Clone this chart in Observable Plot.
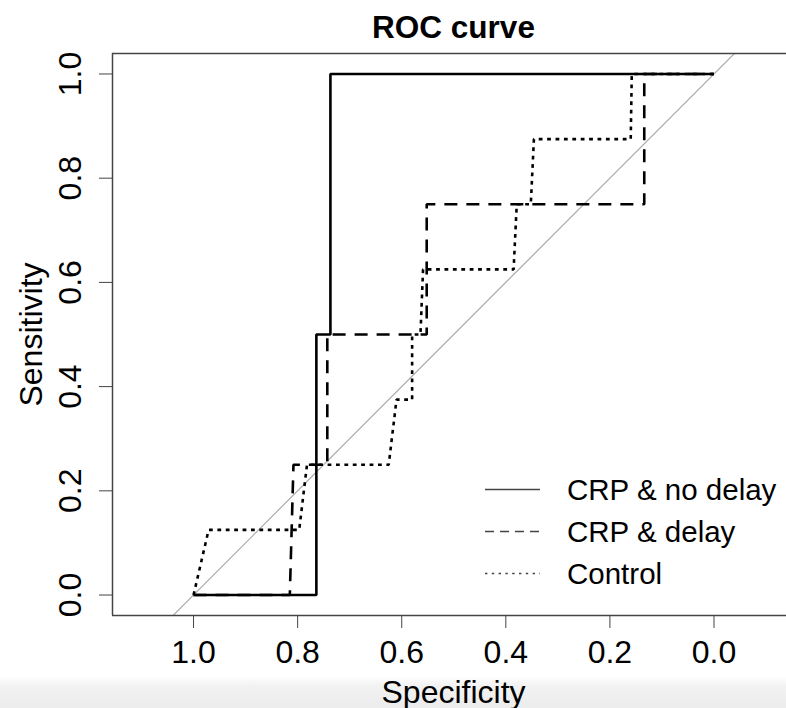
<!DOCTYPE html>
<html>
<head>
<meta charset="utf-8">
<script src="https://cdn.jsdelivr.net/npm/d3@7"></script>
<script src="https://cdn.jsdelivr.net/npm/@observablehq/plot@0.6"></script>
<style>
  html, body { margin: 0; padding: 0; overflow: hidden; }
  body {
    width: 786px; height: 708px; position: relative;
    background: linear-gradient(to bottom, #ffffff 0px, #ffffff 676px, #f2f2f2 686px, #ececec 708px);
    font-family: "Liberation Sans", Arial, Helvetica, sans-serif;
  }
  #chart { position: absolute; left: 0; top: 0; }
  #legend { position: absolute; left: 0; top: 0; pointer-events: none; }
</style>
</head>
<body>
<div id="chart"></div>
<svg id="legend" width="786" height="708"></svg>
<script>
// ---- chart text ----
const title = "ROC curve";
const xLabel = "Specificity";
const yLabel = "Sensitivity";

// ---- tick values ----
const xTicks = [1.0, 0.8, 0.6, 0.4, 0.2, 0.0];
const yTicks = [0.0, 0.2, 0.4, 0.6, 0.8, 1.0];

// ---- series ----
const seriesNames = ["CRP & no delay", "CRP & delay", "Control"];

const noDelaySpec = [1.000, 0.764, 0.764, 0.737, 0.737, 0.000];
const noDelaySens = [0.000, 0.000, 0.500, 0.500, 1.000, 1.000];

const delaySpec = [1.000, 0.815, 0.808, 0.743, 0.743, 0.552, 0.552, 0.134, 0.134, 0.000];
const delaySens = [0.000, 0.000, 0.250, 0.250, 0.500, 0.500, 0.750, 0.750, 1.000, 1.000];

const controlSpec = [1.000, 0.971, 0.797, 0.782, 0.625, 0.610, 0.580, 0.580, 0.564, 0.559, 0.385, 0.379, 0.352, 0.346, 0.160, 0.158, 0.000];
const controlSens = [0.000, 0.125, 0.125, 0.250, 0.250, 0.375, 0.375, 0.500, 0.500, 0.625, 0.625, 0.750, 0.750, 0.875, 0.875, 1.000, 1.000];

// reference diagonal (abline intercept 1, slope -1)
const diagIntercept = 1;
const diagSlope = -1;

// ---- styling ----
const font = "'Liberation Sans', Arial, Helvetica, sans-serif";
const curveDash = [null, "13,9", "3.8,4.6"];
const legendDash = [null, "9,6", "2.4,4.4"];

const xDomain = [1.1557, -0.1393];
const yDomain = [-0.0393, 1.0393];

const specs = [noDelaySpec, delaySpec, controlSpec];
const senss = [noDelaySens, delaySens, controlSens];
const seriesData = seriesNames.map((name, k) =>
  specs[k].map((s, i) => ({series: name, spec: s, sens: senss[k][i]}))
);
const diag = xDomain.map(s => ({spec: s, sens: diagIntercept + diagSlope * s}));

const fmt = d3.format(".1f");

const chart = Plot.plot({
  width: 786,
  height: 708,
  marginLeft: 112,
  marginRight: 0,
  marginTop: 53,
  marginBottom: 93,
  style: {background: "transparent", fontFamily: font, color: "#000", overflow: "visible"},
  x: {domain: xDomain, label: null},
  y: {domain: yDomain, label: null},
  marks: [
    Plot.line(diag, {x: "spec", y: "sens", stroke: "#aaaaaa", strokeWidth: 1.2, clip: true}),
    ...seriesData.map((d, k) =>
      Plot.line(d, {
        x: "spec", y: "sens",
        stroke: "#000",
        strokeWidth: 2.6,
        strokeDasharray: curveDash[k] || undefined,
        strokeLinejoin: "miter",
        strokeLinecap: "butt"
      })
    ),
    Plot.ruleY([yDomain[0], yDomain[1]], {stroke: "#444", strokeWidth: 1.5}),
    Plot.ruleX([xDomain[0]], {stroke: "#444", strokeWidth: 1.5}),
    Plot.axisX(xTicks, {
      tickSize: 13, tickPadding: 12, tickFormat: fmt,
      fontSize: 32, stroke: "#444", fill: "#000", label: null
    }),
    Plot.axisY(yTicks, {
      tickSize: 13, tickPadding: 19, tickFormat: fmt, tickRotate: -90,
      fontSize: 32, stroke: "#444", fill: "#000", label: null
    }),
    Plot.text([xLabel], {frameAnchor: "bottom", dx: 4, dy: 87, textAnchor: "middle", lineAnchor: "bottom", fontSize: 32, fill: "#000"}),
    Plot.text([yLabel], {frameAnchor: "left", dx: -71, rotate: -90, textAnchor: "middle", lineAnchor: "bottom", fontSize: 32, fill: "#000"}),
    Plot.text([title], {frameAnchor: "top", dx: 4, dy: -15.3, textAnchor: "middle", lineAnchor: "bottom", fontSize: 31.5, fontWeight: "bold", fill: "#000"})
  ]
});
document.getElementById("chart").appendChild(chart);

// ---- legend (bottom-right, inside the plot box) ----
const lg = d3.select("#legend");
const legX1 = 485, legX2 = 540, legTextX = 567, legY0 = 489.5, legStep = 42;
seriesNames.forEach((name, k) => {
  const y = legY0 + k * legStep;
  lg.append("line")
    .attr("x1", legX1).attr("x2", legX2).attr("y1", y).attr("y2", y)
    .attr("stroke", "#444").attr("stroke-width", 1.4)
    .attr("stroke-dasharray", legendDash[k]);
  lg.append("text")
    .attr("x", legTextX).attr("y", y).attr("dy", "0.36em")
    .attr("font-family", font).attr("font-size", 29.5).attr("fill", "#000")
    .text(name);
});
</script>
</body>
</html>
